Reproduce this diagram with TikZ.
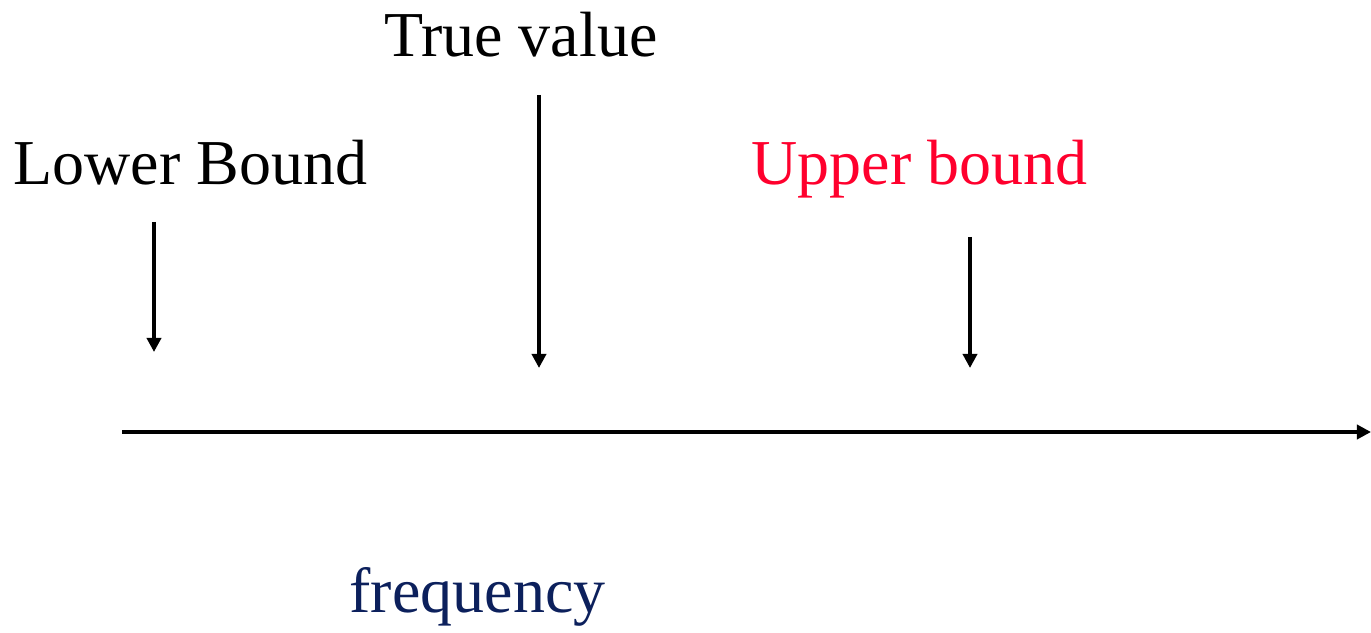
\documentclass[tikz,border=0pt]{standalone}
\usepackage{fontspec}
\setmainfont{Liberation Serif}
\usetikzlibrary{positioning}
\usetikzlibrary{arrows.meta}
\definecolor{boundred}{RGB}{255,0,45}
\definecolor{navy}{RGB}{12,32,92}

\begin{document}
\begin{tikzpicture}[every node/.style={anchor=base, inner sep=0pt, font=\fontsize{36.4}{40}\selectfont},
    pointer/.style={-{Triangle[length=8pt, width=8pt]}, line width=2pt}]
    \useasboundingbox (0,0) rectangle (27.42,12.64);
    \node (lower) at (3.81,8.94) {Lower Bound};
    \node (true) at (10.42,11.5) {True value};
    \node (upper) [text=boundred] at (18.39,8.94) {Upper bound};
    \node (freq) [text=navy] at (9.55,0.4) {frequency};

    \coordinate (axisL) at (2.44,4);
    \coordinate (axisR) at (27.42,4);
    \coordinate (lowA) at (3.08,8.2);
    \coordinate (lowB) at (3.08,5.6);
    \coordinate (trueA) at (10.78,10.74);
    \coordinate (trueB) at (10.78,5.28);
    \coordinate (upA) at (19.4,7.9);
    \coordinate (upB) at (19.4,5.28);

    \draw[pointer, line width=2.3pt] (axisL) -- (axisR);
    \draw[pointer] (lowA) -- (lowB);
    \draw[pointer] (trueA) -- (trueB);
    \draw[pointer] (upA) -- (upB);
\end{tikzpicture}
\end{document}
